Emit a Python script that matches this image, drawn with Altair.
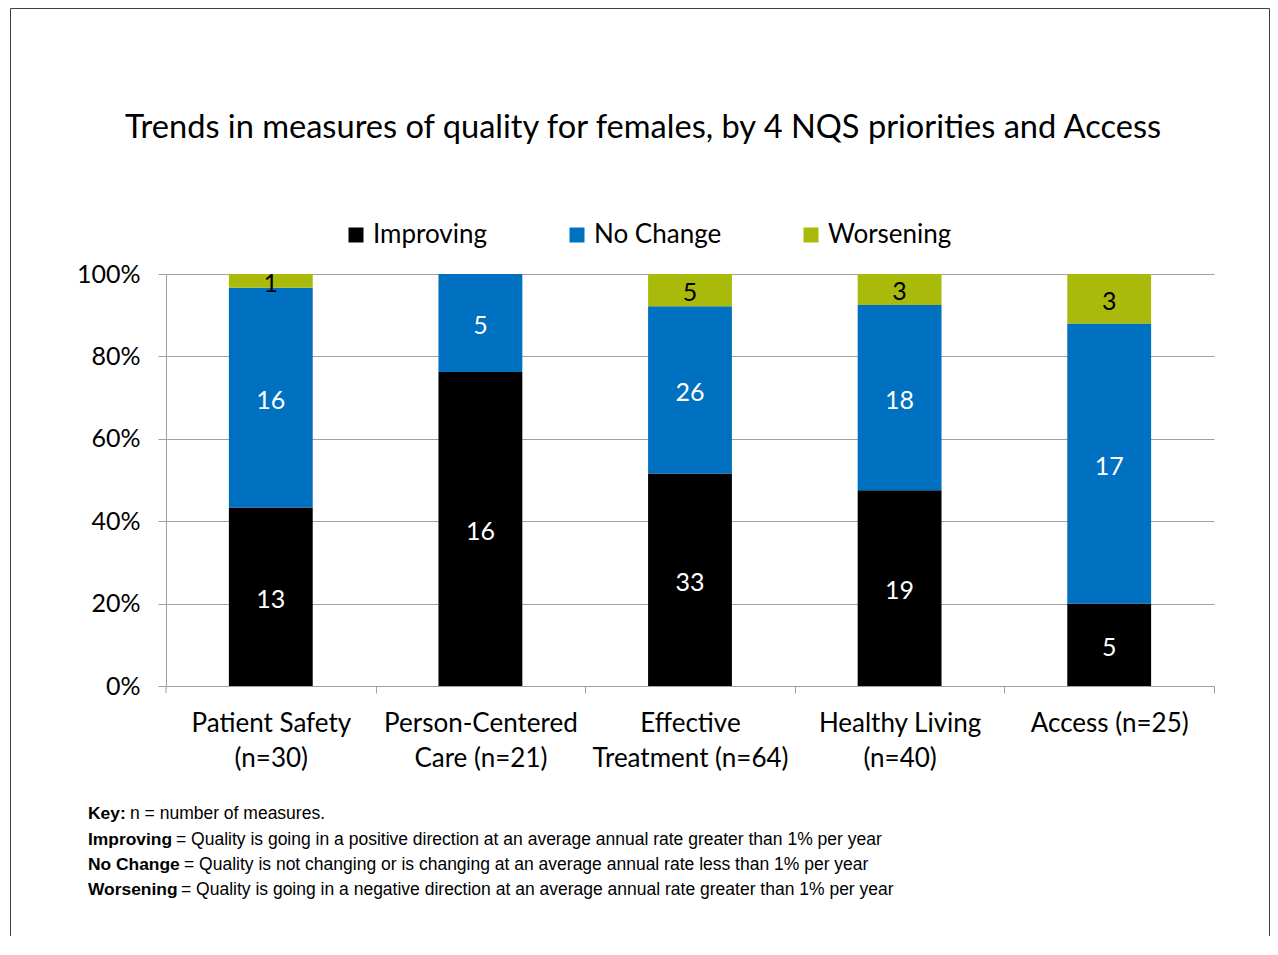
import altair as alt
import pandas as pd

categories = ["Patient Safety\n(n=30)", "Person-Centered\nCare (n=21)", "Effective\nTreatment (n=64)",
              "Healthy Living\n(n=40)", "Access (n=25)"]
statuses = ["Improving", "No Change", "Worsening"]
improving = [13, 16, 33, 19, 5]
no_change = [16, 5, 26, 18, 17]
worsening = [1, 0, 5, 3, 3]
colors = ["#000000", "#0070C0", "#AABA0A"]

title_text = "Trends in measures of quality for females, by 4 NQS priorities and Access"
key_bold = ["Key:", "Improving", "No Change", "Worsening"]
key_rest = ["n = number of measures.",
            "= Quality is going in a positive direction at an average annual rate greater than 1% per year",
            "= Quality is not changing or is changing at an average annual rate less than 1% per year",
            "= Quality is going in a negative direction at an average annual rate greater than 1% per year"]

rows = []
for i, c in enumerate(categories):
    for j, (s, vals) in enumerate(zip(statuses, [improving, no_change, worsening])):
        rows.append({"category": c, "status": s, "order": j, "count": vals[i]})
df = pd.DataFrame(rows)

FONT = "Lato"
KFONT = "Liberation Sans Narrow, Arial Narrow, Liberation Sans"
GREY = "#A0A0A0"

base = alt.Chart(df).transform_stack(
    stack="count", groupby=["category"], as_=["y0", "y1"], offset="normalize",
    sort=[alt.SortField("order", order="ascending")]
).transform_calculate(mid="(datum.y0 + datum.y1) / 2")

xenc = alt.X("category:N", sort=categories, title=None,
             scale=alt.Scale(paddingInner=0.6, paddingOuter=0.3),
             axis=alt.Axis(labelAngle=0,
                           labelExpr="datum.value ? split(datum.value, '\\n') : ''",
                           labelFont=FONT, labelFontSize=26, labelLineHeight=35,
                           labelColor="#000000", labelPadding=17, labelLimit=400,
                           tickOffset=104.8, labelOffset=-104.8, tickSize=7, tickColor=GREY,
                           domainColor=GREY, grid=False))

bars = base.mark_bar().encode(
    x=xenc,
    y=alt.Y("y0:Q", title=None, scale=alt.Scale(domain=[0, 1]),
            axis=alt.Axis(values=[0, 0.2, 0.4, 0.6, 0.8, 1.0], format=".0%",
                          labelFont=FONT, labelFontSize=25, labelColor="#000000",
                          labelPadding=18, tickSize=8, tickColor=GREY,
                          domainColor=GREY, gridColor=GREY)),
    y2="y1:Q",
    color=alt.Color("status:N", sort=statuses,
                    scale=alt.Scale(domain=statuses, range=colors),
                    legend=alt.Legend(orient="none", legendX=177, legendY=-52,
                                      direction="horizontal", title=None,
                                      symbolType="square", symbolSize=225,
                                      symbolStrokeWidth=0, labelFont=FONT,
                                      labelFontSize=26, labelColor="#000000",
                                      labelOffset=4, columnPadding=76)),
    order=alt.Order("order:Q"),
)

labels = base.transform_filter("datum.count > 0").mark_text(
    font=FONT, fontSize=25, baseline="middle", align="center", dy=3
).encode(
    x=alt.X("category:N", sort=categories),
    y=alt.Y("mid:Q"),
    text=alt.Text("count:Q"),
    color=alt.condition("datum.status == 'Worsening'", alt.value("#000000"), alt.value("#FFFFFF")),
)

one = alt.Data(values=[{}])

left_tick = alt.Chart(one).mark_rule(color=GREY, strokeWidth=1).encode(
    x=alt.value(0), y=alt.value(412), y2=alt.value(419))

title = alt.Chart(one).mark_text(font=FONT, fontSize=32.6, align="center", baseline="alphabetic",
                                 color="#000000").encode(
    x=alt.value(477), y=alt.value(-136), text=alt.value(title_text))

key_layers = []
key_y = [544.5, 570.5, 595.5, 620.5]
rest_x = [-36, 10, 18, 15]
for b, r, yy, rx in zip(key_bold, key_rest, key_y, rest_x):
    key_layers.append(alt.Chart(one).mark_text(font=KFONT, fontSize=17.4, fontWeight="bold",
                                               align="left", baseline="alphabetic",
                                               color="#000000").encode(
        x=alt.value(-78), y=alt.value(yy), text=alt.value(b)))
    key_layers.append(alt.Chart(one).mark_text(font=KFONT, fontSize=17.5,
                                               align="left", baseline="alphabetic",
                                               color="#000000").encode(
        x=alt.value(rx), y=alt.value(yy), text=alt.value(r)))

frame_left = alt.Chart(one).mark_rule(color="#404040", strokeWidth=1).encode(
    x=alt.value(-155.5), y=alt.value(-265.5), y2=alt.value(670))
frame_top = alt.Chart(one).mark_rule(color="#404040", strokeWidth=1).encode(
    x=alt.value(-155.5), x2=alt.value(1103.5), y=alt.value(-265.5))
frame_right = alt.Chart(one).mark_rule(color="#404040", strokeWidth=1).encode(
    x=alt.value(1103.5), y=alt.value(-265.5), y2=alt.value(670))

chart = alt.layer(bars, labels, left_tick, title, *key_layers,
                  frame_left, frame_top, frame_right).properties(
    width=1048, height=412,
    autosize=alt.AutoSizeParams(type="none"),
    padding={"left": 158, "top": 266, "right": 56, "bottom": 250},
    background="#FFFFFF",
).configure_view(stroke="transparent")

chart.save("out.html", embed_options={"renderer": "svg", "actions": False})
